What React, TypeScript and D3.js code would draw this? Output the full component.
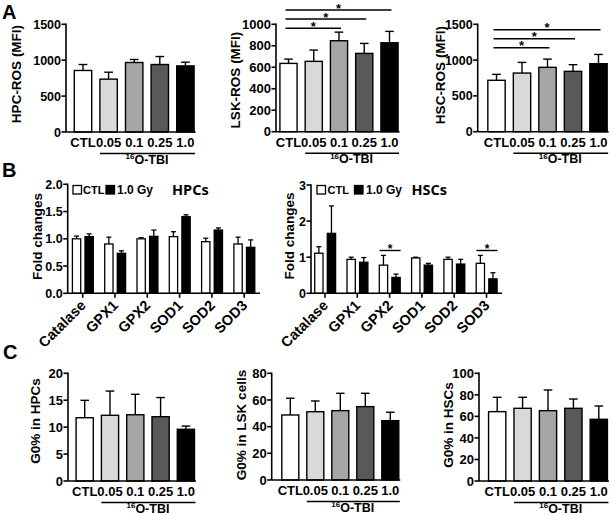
import React from "react";
import * as d3 from "d3";

// ---------- data ----------
const doseLabels = ["CTL", "0.05", "0.1", "0.25", "1.0"];
const hpcRosMean = [857, 736, 968, 940, 921];
const hpcRosSem = [83, 97, 42, 111, 51];
const lskRosMean = [636, 655, 847, 729, 828];
const lskRosSem = [40, 105, 80, 93, 106];
const hscRosMean = [718, 819, 899, 843, 950];
const hscRosSem = [83, 149, 115, 93, 129];
const rosTicks1500 = [0, 500, 1000, 1500];
const rosTicks1000 = [0, 200, 400, 600, 800, 1000];
const lskSigPairs: [number, number][] = [[0, 2], [0, 3], [0, 4]];
const hscSigPairs: [number, number][] = [[0, 2], [0, 3], [0, 4]];

const genes = ["Catalase", "GPX1", "GPX2", "SOD1", "SOD2", "SOD3"];
const groupLabels = ["CTL", "1.0 Gy"];
const hpcCtlMean = [1.0, 0.905, 1.0, 1.04, 0.947, 0.905];
const hpcCtlSem = [0.05, 0.125, 0.02, 0.09, 0.063, 0.125];
const hpcGyMean = [1.04, 0.734, 1.045, 1.405, 1.16, 0.844];
const hpcGySem = [0.05, 0.046, 0.115, 0.035, 0.04, 0.136];
const hscCtlMean = [1.11, 0.94, 0.78, 0.98, 0.94, 0.83];
const hscCtlSem = [0.18, 0.06, 0.27, 0.02, 0.06, 0.22];
const hscGyMean = [1.66, 0.86, 0.44, 0.78, 0.81, 0.4];
const hscGySem = [0.76, 0.13, 0.09, 0.05, 0.13, 0.17];
const foldTicksHpc = [0, 0.5, 1.0, 1.5, 2.0];
const foldTicksHsc = [0, 1, 2, 3];
const hscSigGenes = ["GPX2", "SOD3"];

const g0HpcMean = [11.75, 12.2, 12.3, 11.94, 9.6];
const g0HpcSem = [3.23, 4.5, 3.8, 3.56, 0.6];
const g0LskMean = [48.75, 51.2, 52, 55, 44.5];
const g0LskSem = [12.55, 8.05, 13, 10, 6.3];
const g0HscMean = [64.4, 67.5, 65.3, 67.5, 57.3];
const g0HscSem = [13.3, 10.2, 19.2, 8.6, 12.3];
const g0TicksHpc = [0, 5, 10, 15, 20];
const g0TicksLsk = [0, 20, 40, 60, 80];
const g0TicksHsc = [0, 20, 40, 60, 80, 100];

// ---------- styles ----------
const doseFills = ["#ffffff", "#d9d9d9", "#a6a6a6", "#595959", "#000000"];
const FONT = "'Liberation Sans', Arial, Helvetica, sans-serif";
const TITLE_FONT = "'Open Sans', 'Liberation Sans', sans-serif";

type DoseProps = {
  means: number[];
  sems: number[];
  ticks: number[];
  tickFmt?: (v: number) => string;
  axisX: number;
  yBottom: number;
  yTop: number;
  firstCenter: number;
  step: number;
  yLabel: string;
  labelX: number;
  labelY: number;
  tickSize: number;
  sigPairs?: [number, number][];
  sigYs?: number[];
};

function DosePanel(p: DoseProps) {
  const y = d3
    .scaleLinear()
    .domain([0, d3.max(p.ticks) as number])
    .range([p.yBottom, p.yTop]);
  const r0 = p.firstCenter - p.step / 2;
  const x = d3
    .scaleBand()
    .domain(doseLabels)
    .range([r0, r0 + p.step * doseLabels.length])
    .paddingInner(0.32)
    .paddingOuter(0.16);
  const bw = x.bandwidth();
  const cx = (d: string) => (x(d) as number) + bw / 2;
  const cap = bw * 0.5;
  const lastEnd = (x("1.0") as number) + bw;
  const lineStart = x("0.05") as number;
  const lineY = p.yBottom + 21.5;
  const fmt = p.tickFmt || ((v: number) => String(v));
  return (
    <g>
      {doseLabels.map((d, i) => {
        const top = y(p.means[i]);
        const et = y(p.means[i] + p.sems[i]);
        return (
          <g key={d}>
            <line x1={cx(d)} x2={cx(d)} y1={top} y2={et} stroke="#000" strokeWidth={1.4} />
            <line x1={cx(d) - cap / 2} x2={cx(d) + cap / 2} y1={et} y2={et} stroke="#000" strokeWidth={1.4} />
            <rect
              x={x(d)}
              y={top}
              width={bw}
              height={p.yBottom - top}
              fill={doseFills[i]}
              stroke="#000"
              strokeWidth={1.4}
            />
          </g>
        );
      })}
      <line x1={p.axisX} x2={p.axisX} y1={p.yTop - 0.7} y2={p.yBottom} stroke="#000" strokeWidth={1.6} />
      {p.ticks.map((t) => (
        <g key={t}>
          <line x1={p.axisX - 4.5} x2={p.axisX} y1={y(t)} y2={y(t)} stroke="#000" strokeWidth={1.6} />
          <text
            x={p.axisX - 5}
            y={y(t)}
            dy="0.36em"
            textAnchor="end"
            fontSize={p.tickSize}
            fontWeight="bold"
            fontFamily={FONT}
          >
            {fmt(t)}
          </text>
        </g>
      ))}
      <line x1={p.axisX} x2={lastEnd + 1.5} y1={p.yBottom} y2={p.yBottom} stroke="#000" strokeWidth={1.6} />
      {doseLabels.map((d) => (
        <text
          key={d}
          x={cx(d)}
          y={p.yBottom + 15}
          textAnchor="middle"
          fontSize={13}
          fontWeight="bold"
          fontFamily={FONT}
        >
          {d}
        </text>
      ))}
      <line x1={lineStart} x2={lastEnd + 1} y1={lineY} y2={lineY} stroke="#000" strokeWidth={1.5} />
      <text
        x={(lineStart + lastEnd) / 2}
        y={p.yBottom + 31.5}
        textAnchor="middle"
        fontSize={12.5}
        fontWeight="bold"
        fontFamily={FONT}
      >
        <tspan fontSize={8} dy={-4.5}>16</tspan>
        <tspan dy={4.5}>O-TBI</tspan>
      </text>
      <text
        transform={`translate(${p.labelX},${p.labelY}) rotate(-90)`}
        textAnchor="middle"
        dy="0.36em"
        fontSize={13.5}
        fontWeight="bold"
        fontFamily={FONT}
      >
        {p.yLabel}
      </text>
      {p.sigPairs &&
        p.sigPairs.map(([a, b], k) => {
          const ly = (p.sigYs as number[])[k];
          const x1 = cx(doseLabels[a]) - 3;
          const x2 = cx(doseLabels[b]) + 2;
          return (
            <g key={k}>
              <line x1={x1} x2={x2} y1={ly} y2={ly} stroke="#000" strokeWidth={1.5} />
              <text
                x={(x1 + x2) / 2}
                y={ly + 2.5}
                textAnchor="middle"
                fontSize={13}
                fontWeight="bold"
                fontFamily={FONT}
              >
                *
              </text>
            </g>
          );
        })}
    </g>
  );
}

type GeneProps = {
  ctl: number[];
  ctlSem: number[];
  gy: number[];
  gySem: number[];
  ticks: number[];
  tickFmt: (v: number) => string;
  axisX: number;
  yBottom: number;
  yTop: number;
  firstCenter: number;
  step: number;
  axisEnd: number;
  labelX: number;
  labelY: number;
  legend: number[];
  title: string;
  sigGenes?: string[];
  sigY?: number;
};

function GenePanel(p: GeneProps) {
  const y = d3
    .scaleLinear()
    .domain([0, d3.max(p.ticks) as number])
    .range([p.yBottom, p.yTop]);
  const r0 = p.firstCenter - p.step / 2;
  const x = d3
    .scaleBand()
    .domain(genes)
    .range([r0, r0 + p.step * genes.length]);
  const xs = d3.scaleBand().domain(groupLabels).range([-10.3, 10.6]).paddingInner(0.34);
  const bw = xs.bandwidth();
  const cg = (g: string) => (x(g) as number) + x.bandwidth() / 2;
  const series = [
    { m: p.ctl, s: p.ctlSem, fill: "#fff" },
    { m: p.gy, s: p.gySem, fill: "#000" },
  ];
  return (
    <g>
      {genes.map((g, i) =>
        series.map((sr, k) => {
          const bx = cg(g) + (xs(groupLabels[k]) as number);
          const c = bx + bw / 2;
          const top = y(sr.m[i]);
          const et = y(sr.m[i] + sr.s[i]);
          return (
            <g key={g + k}>
              <line x1={c} x2={c} y1={top} y2={et} stroke="#000" strokeWidth={1.3} />
              <line x1={c - 2.5} x2={c + 2.5} y1={et} y2={et} stroke="#000" strokeWidth={1.3} />
              <rect
                x={bx}
                y={top}
                width={bw}
                height={p.yBottom - top}
                fill={sr.fill}
                stroke="#000"
                strokeWidth={1.3}
              />
            </g>
          );
        })
      )}
      <line x1={p.axisX} x2={p.axisX} y1={p.yTop - 0.7} y2={p.yBottom} stroke="#000" strokeWidth={1.6} />
      {p.ticks.map((t) => (
        <g key={t}>
          <line x1={p.axisX - 4.5} x2={p.axisX} y1={y(t)} y2={y(t)} stroke="#000" strokeWidth={1.6} />
          <text
            x={p.axisX - 5}
            y={y(t)}
            dy="0.36em"
            textAnchor="end"
            fontSize={12.5}
            fontWeight="bold"
            fontFamily={FONT}
          >
            {p.tickFmt(t)}
          </text>
        </g>
      ))}
      <line x1={p.axisX} x2={p.axisEnd} y1={p.yBottom} y2={p.yBottom} stroke="#000" strokeWidth={1.6} />
      {genes.map((g) => (
        <g key={g}>
          <line x1={cg(g)} x2={cg(g)} y1={p.yBottom} y2={p.yBottom + 4.5} stroke="#000" strokeWidth={1.6} />
          <text
            transform={`translate(${cg(g) + 4},${p.yBottom + 13}) rotate(-45)`}
            textAnchor="end"
            fontSize={14.5}
            fontWeight="bold"
            fontFamily={FONT}
          >
            {g}
          </text>
        </g>
      ))}
      <text
        transform={`translate(${p.labelX},${p.labelY}) rotate(-90)`}
        textAnchor="middle"
        dy="0.36em"
        fontSize={13.5}
        fontWeight="bold"
        fontFamily={FONT}
      >
        Fold changes
      </text>
      <rect x={p.legend[0]} y={185.5} width={8.5} height={8.5} fill="#fff" stroke="#000" strokeWidth={1.3} />
      <text x={p.legend[1]} y={193.5} fontSize={11} fontWeight="bold" fontFamily={FONT}>
        {groupLabels[0]}
      </text>
      <rect x={p.legend[2]} y={185.5} width={8.5} height={8.5} fill="#000" stroke="#000" strokeWidth={1.3} />
      <text x={p.legend[3]} y={193.5} fontSize={12} fontWeight="bold" fontFamily={FONT}>
        {groupLabels[1]}
      </text>
      <text x={p.legend[4]} y={195} fontSize={14.5} fontWeight="bold" fontFamily={TITLE_FONT}>
        {p.title}
      </text>
      {p.sigGenes &&
        p.sigGenes.map((g) => {
          const c = cg(g);
          return (
            <g key={g}>
              <line x1={c - 10} x2={c + 11} y1={p.sigY} y2={p.sigY} stroke="#000" strokeWidth={1.4} />
              <text
                x={c + 0.5}
                y={(p.sigY as number) + 2.5}
                textAnchor="middle"
                fontSize={12}
                fontWeight="bold"
                fontFamily={FONT}
              >
                *
              </text>
            </g>
          );
        })}
    </g>
  );
}

export default function App() {
  const f1 = d3.format(".1f");
  const f0 = (v: number) => String(v);
  return (
    <svg
      width={615}
      height={515}
      viewBox="0 0 615 515"
      style={{ position: "absolute", left: 0, top: 0, background: "#fff" }}
    >
      <rect width={615} height={515} fill="#fff" />
      <text x={2} y={18.5} fontSize={20} fontWeight="bold" fontFamily={FONT}>A</text>
      <text x={2} y={177} fontSize={20} fontWeight="bold" fontFamily={FONT}>B</text>
      <text x={3} y={359} fontSize={20} fontWeight="bold" fontFamily={FONT}>C</text>

      <DosePanel
        means={hpcRosMean}
        sems={hpcRosSem}
        ticks={rosTicks1500}
        axisX={66}
        yBottom={132}
        yTop={24.3}
        firstCenter={83}
        step={25.6}
        yLabel="HPC-ROS (MFI)"
        labelX={16}
        labelY={74}
        tickSize={12.5}
      />
      <DosePanel
        means={lskRosMean}
        sems={lskRosSem}
        ticks={rosTicks1000}
        axisX={276}
        yBottom={131.7}
        yTop={24.3}
        firstCenter={288.5}
        step={25.25}
        yLabel="LSK-ROS (MFI)"
        labelX={235}
        labelY={80}
        tickSize={13}
        sigPairs={lskSigPairs}
        sigYs={[28.3, 19, 10]}
      />
      <DosePanel
        means={hscRosMean}
        sems={hscRosSem}
        ticks={rosTicks1500}
        axisX={477.7}
        yBottom={131.7}
        yTop={24.3}
        firstCenter={496.5}
        step={25.5}
        yLabel="HSC-ROS (MFI)"
        labelX={440}
        labelY={75}
        tickSize={12.5}
        sigPairs={hscSigPairs}
        sigYs={[47.7, 38.7, 29.7]}
      />

      <GenePanel
        ctl={hpcCtlMean}
        ctlSem={hpcCtlSem}
        gy={hpcGyMean}
        gySem={hpcGySem}
        ticks={foldTicksHpc}
        tickFmt={f1}
        axisX={67.7}
        yBottom={293.3}
        yTop={184.3}
        firstCenter={82.7}
        step={32.3}
        axisEnd={260}
        labelX={37.5}
        labelY={236.5}
        legend={[73, 83, 106, 117, 172]}
        title="HPCs"
      />
      <GenePanel
        ctl={hscCtlMean}
        ctlSem={hscCtlSem}
        gy={hscGyMean}
        gySem={hscGySem}
        ticks={foldTicksHsc}
        tickFmt={f0}
        axisX={311}
        yBottom={293.3}
        yTop={185}
        firstCenter={325}
        step={32.3}
        axisEnd={502}
        labelX={289}
        labelY={236}
        legend={[317, 327.5, 354.5, 366, 411.5]}
        title="HSCs"
        sigGenes={hscSigGenes}
        sigY={250.5}
      />

      <DosePanel
        means={g0HpcMean}
        sems={g0HpcSem}
        ticks={g0TicksHpc}
        axisX={68}
        yBottom={481}
        yTop={373.3}
        firstCenter={84.7}
        step={25.3}
        yLabel="G0% in HPCs"
        labelX={35}
        labelY={421}
        tickSize={13}
      />
      <DosePanel
        means={g0LskMean}
        sems={g0LskSem}
        ticks={g0TicksLsk}
        axisX={271.7}
        yBottom={480}
        yTop={373.3}
        firstCenter={290.3}
        step={25}
        yLabel="G0% in LSK cells"
        labelX={241.5}
        labelY={425}
        tickSize={13}
      />
      <DosePanel
        means={g0HscMean}
        sems={g0HscSem}
        ticks={g0TicksHsc}
        axisX={479}
        yBottom={481}
        yTop={373.3}
        firstCenter={497.2}
        step={25.4}
        yLabel="G0% in HSCs"
        labelX={448.5}
        labelY={425}
        tickSize={13}
      />
    </svg>
  );
}
